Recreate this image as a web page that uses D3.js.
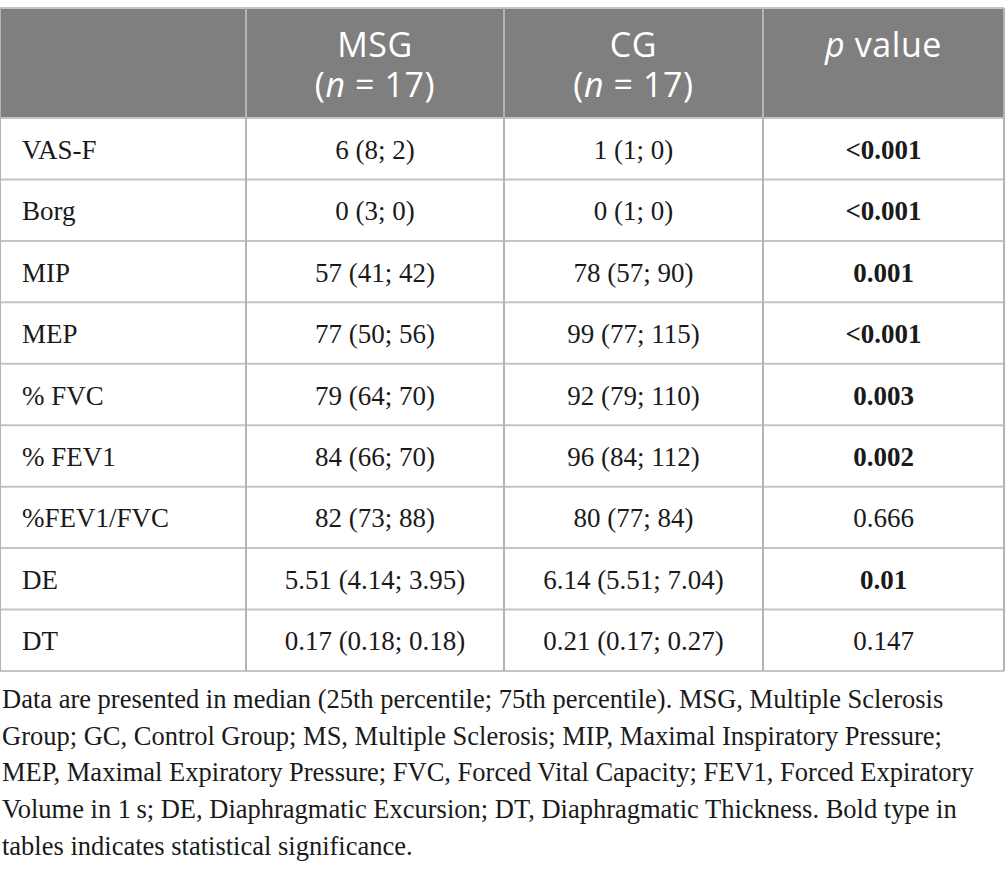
<!DOCTYPE html>
<html>
<head>
<meta charset="utf-8">
<script src="https://cdn.jsdelivr.net/npm/d3@7"></script>
<style>
  body { margin: 0; background: #fff; }
</style>
</head>
<body>
<div id="table"></div>
<script>
  const metrics = ["VAS-F", "Borg", "MIP", "MEP", "% FVC", "% FEV1", "%FEV1/FVC", "DE", "DT"]
  const msgValues = ["6 (8; 2)", "0 (3; 0)", "57 (41; 42)", "77 (50; 56)", "79 (64; 70)", "84 (66; 70)", "82 (73; 88)", "5.51 (4.14; 3.95)", "0.17 (0.18; 0.18)"]
  const cgValues = ["1 (1; 0)", "0 (1; 0)", "78 (57; 90)", "99 (77; 115)", "92 (79; 110)", "96 (84; 112)", "80 (77; 84)", "6.14 (5.51; 7.04)", "0.21 (0.17; 0.27)"]
  const pValues = ["<0.001", "<0.001", "0.001", "<0.001", "0.003", "0.002", "0.666", "0.01", "0.147"]
  const significant = [true, true, true, true, true, true, false, true, false]
  const footnote = [
    "Data are presented in median (25th percentile; 75th percentile). MSG, Multiple Sclerosis",
    "Group; GC, Control Group; MS, Multiple Sclerosis; MIP, Maximal Inspiratory Pressure;",
    "MEP, Maximal Expiratory Pressure; FVC, Forced Vital Capacity; FEV1, Forced Expiratory",
    "Volume in 1\u2009s; DE, Diaphragmatic Excursion; DT, Diaphragmatic Thickness. Bold type in",
    "tables indicates statistical significance."
  ]

  const width = 1005
  const height = 877
  const colEdges = [0, 246, 504, 763, 1004]
  const tableTop = 8
  const headBottom = 118
  const tableBottom = 671
  const lineColor = "#c4c4c4"
  const serif = "'Liberation Serif', 'Times New Roman', serif"
  const sans = "'Open Sans', 'Noto Sans', sans-serif"

  const svg = d3.select("#table")
    .append("svg")
    .attr("width", width)
    .attr("height", height)

  const y = d3.scaleBand()
    .domain(metrics)
    .range([headBottom, tableBottom])

  const colCenter = i => (colEdges[i] + colEdges[i + 1]) / 2

  // header band
  svg.append("rect")
    .attr("x", colEdges[0])
    .attr("y", tableTop)
    .attr("width", colEdges[4] - colEdges[0])
    .attr("height", headBottom - tableTop)
    .attr("fill", "#7f7f7f")

  // header text
  const head = svg.append("g")
    .attr("font-family", sans)
    .attr("font-size", 34)
    .attr("letter-spacing", 0.6)
    .attr("fill", "#fff")
    .attr("text-anchor", "middle")

  const groups = [["MSG", 1], ["CG", 2]]
  groups.forEach(([name, i]) => {
    head.append("text").attr("x", colCenter(i)).attr("y", 57).text(name)
    const t = head.append("text").attr("x", colCenter(i)).attr("y", 97)
    t.append("tspan").text("(")
    t.append("tspan").attr("font-style", "italic").text("n")
    t.append("tspan").text(" = 17)")
  })
  const pv = head.append("text").attr("x", colCenter(3)).attr("y", 57)
  pv.append("tspan").attr("font-style", "italic").text("p")
  pv.append("tspan").text(" value")

  // body rows
  const rows = svg.append("g")
    .attr("font-family", serif)
    .attr("font-size", 27)
    .attr("fill", "#1a1a1a")
    .selectAll("g")
    .data(metrics)
    .join("g")
    .attr("transform", d => `translate(0,${y(d) + y.bandwidth() / 2 + 10})`)

  rows.append("text")
    .attr("x", 22)
    .text(d => d)

  rows.append("text")
    .attr("x", colCenter(1))
    .attr("text-anchor", "middle")
    .text((d, i) => msgValues[i])

  rows.append("text")
    .attr("x", colCenter(2))
    .attr("text-anchor", "middle")
    .text((d, i) => cgValues[i])

  rows.append("text")
    .attr("x", colCenter(3))
    .attr("text-anchor", "middle")
    .attr("font-weight", (d, i) => significant[i] ? "bold" : null)
    .text((d, i) => pValues[i])

  // grid lines
  const grid = svg.append("g")
    .attr("stroke", lineColor)
    .attr("stroke-width", 2)

  grid.selectAll("line.h")
    .data([tableTop, headBottom, ...metrics.slice(1).map(d => y(d)), tableBottom])
    .join("line")
    .attr("class", "h")
    .attr("x1", colEdges[0])
    .attr("x2", colEdges[4])
    .attr("y1", d => d)
    .attr("y2", d => d)

  grid.selectAll("line.v")
    .data(colEdges)
    .join("line")
    .attr("class", "v")
    .attr("x1", d => d)
    .attr("x2", d => d)
    .attr("y1", tableTop)
    .attr("y2", tableBottom)
    .attr("stroke", "#b4b4b4")

  // footnote
  svg.append("g")
    .attr("font-family", serif)
    .attr("font-size", 26.5)
    .attr("fill", "#1a1a1a")
    .selectAll("text")
    .data(footnote)
    .join("text")
    .attr("x", 2)
    .attr("y", (d, i) => 708 + i * 36.7)
    .text(d => d)
</script>
</body>
</html>
